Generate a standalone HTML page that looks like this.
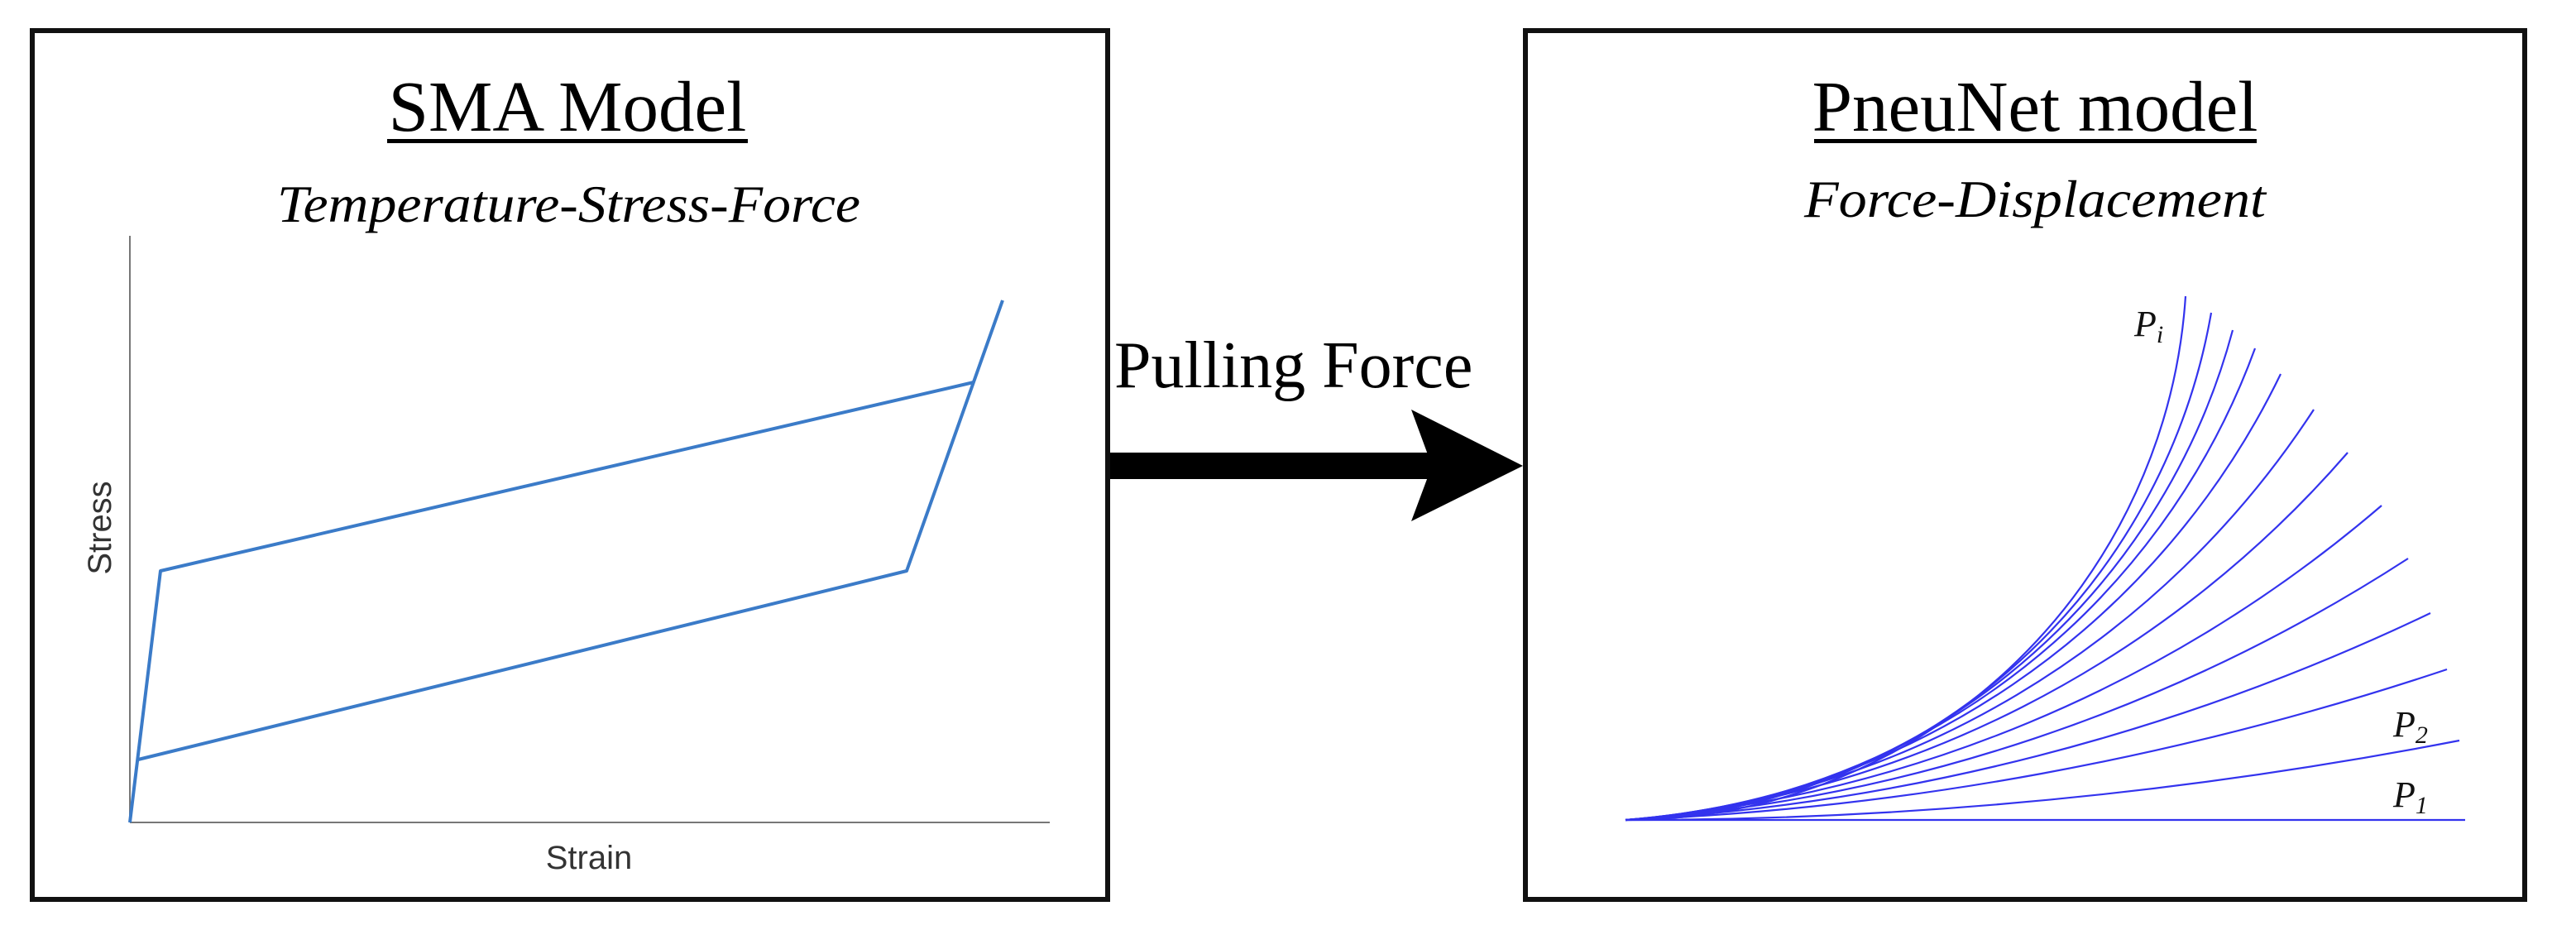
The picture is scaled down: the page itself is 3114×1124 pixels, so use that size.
<!DOCTYPE html>
<html><head><meta charset="utf-8"><style>
html,body{margin:0;padding:0;background:#fff;}
svg{display:block;}
</style></head><body>
<svg width="3114" height="1124" viewBox="0 0 3114 1124" xmlns="http://www.w3.org/2000/svg">
<rect x="0" y="0" width="3114" height="1124" fill="#fff"/>
<!-- boxes -->
<rect x="39" y="37" width="1300" height="1050" fill="none" stroke="#111" stroke-width="6"/>
<rect x="1844" y="37" width="1208" height="1050" fill="none" stroke="#111" stroke-width="6"/>

<!-- left titles -->
<text x="686" y="158" font-family="Liberation Serif, serif" font-size="87" text-anchor="middle" fill="#000">SMA Model</text>
<rect x="468" y="168" width="436" height="5" fill="#000"/>
<text x="335" y="268" font-family="Liberation Serif, serif" font-style="italic" font-size="63" textLength="705" lengthAdjust="spacingAndGlyphs" fill="#000">Temperature-Stress-Force</text>

<!-- axes -->
<line x1="157" y1="285" x2="157" y2="994" stroke="#777" stroke-width="2"/>
<line x1="157" y1="994" x2="1269" y2="994" stroke="#777" stroke-width="2"/>
<text x="0" y="0" transform="translate(134,638) rotate(-90)" font-family="Liberation Sans, sans-serif" font-size="40" text-anchor="middle" fill="#333">Stress</text>
<text x="712" y="1050" font-family="Liberation Sans, sans-serif" font-size="40" text-anchor="middle" fill="#333">Strain</text>

<!-- SMA curves -->
<g stroke="#3b7bc8" stroke-width="4" fill="none" stroke-linejoin="round">
<polyline points="157,994 194,690 1177,462"/>
<polyline points="167,918 1096,690 1212,363"/>
</g>

<!-- arrow -->
<text x="1347" y="468" font-family="Liberation Serif, serif" font-size="80" fill="#000">Pulling Force</text>
<rect x="1342" y="547" width="392" height="32" fill="#000"/>
<polygon points="1706,495 1841,563 1706,630 1731,563" fill="#000"/>

<!-- right titles -->
<text x="2460" y="158" font-family="Liberation Serif, serif" font-size="87" text-anchor="middle" fill="#000">PneuNet model</text>
<rect x="2193" y="168" width="535" height="5" fill="#000"/>
<text x="2181" y="262" font-family="Liberation Serif, serif" font-style="italic" font-size="63" textLength="558" lengthAdjust="spacingAndGlyphs" fill="#000">Force-Displacement</text>

<!-- pneunet curves -->
<g stroke="#3333ee" stroke-width="2.2" fill="none">
<line x1="1965" y1="991" x2="2980" y2="991"/>
<path d="M1965,991 A678,678 0 0 0 2642,358"/>
<path d="M1965,991 A740,740 0 0 0 2673,378"/>
<path d="M1965,991 A800,800 0 0 0 2699,399"/>
<path d="M1965,991 A870,870 0 0 0 2726,421"/>
<path d="M1965,991 A960,960 0 0 0 2757,452"/>
<path d="M1965,991 A1100,1100 0 0 0 2797,495"/>
<path d="M1965,991 A1300,1300 0 0 0 2838,547"/>
<path d="M1965,991 A1600,1600 0 0 0 2879,611"/>
<path d="M1965,991 A2000,2000 0 0 0 2911,675"/>
<path d="M1965,991 A2600,2600 0 0 0 2938,741"/>
<path d="M1965,991 A3600,3600 0 0 0 2958,809"/>
<path d="M1965,991 A5300,5300 0 0 0 2973,895"/>
</g>
<g font-family="Liberation Serif, serif" font-style="italic" fill="#111">
<text x="2580" y="406" font-size="44">P<tspan font-size="30" dy="8">i</tspan></text>
<text x="2893" y="890" font-size="44">P<tspan font-size="30" dy="8">2</tspan></text>
<text x="2893" y="975" font-size="44">P<tspan font-size="30" dy="8">1</tspan></text>
</g>
</svg>
</body></html>
